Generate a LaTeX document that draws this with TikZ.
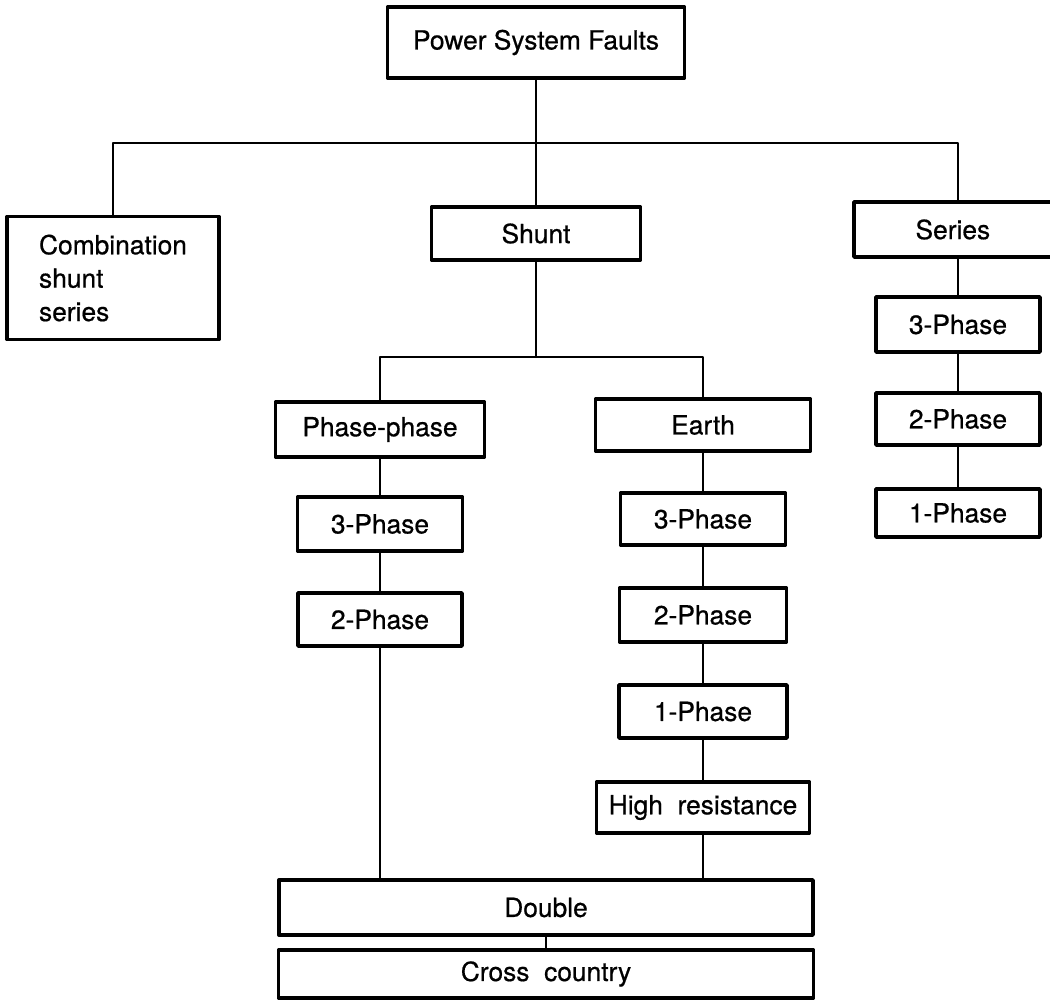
\documentclass[tikz,border=0pt]{standalone}
\usepackage{fontspec}
\setmainfont{TeX Gyre Heros}
\newfontfamily\inkfont{TeX Gyre Heros}[FakeBold=0.6]
\definecolor{pen}{RGB}{0,0,0}
\tikzset{
  fault/.style={draw=pen, line width=2pt, inner sep=2pt,
                font=\inkfont\fontsize{15}{19}\selectfont},
  link/.style={draw=pen, line width=1.4pt},
}

\begin{document}
\begin{tikzpicture}[x=0.02cm, y=-0.02cm, line cap=round, line join=round]

  %========= frame =========
  \useasboundingbox (0,0) rectangle (1050,1002);

  %========= top levels =========
  \node[fault, minimum width=5.94cm, minimum height=1.42cm] (faults) at (536,42.5) {Power System Faults};
  \node[fault, minimum width=4.24cm, minimum height=2.46cm, align=left] (comb) at (113,278)
       {Combination\\shunt\\series};
  \node[fault, minimum width=4.18cm, minimum height=1.06cm] (shunt) at (536,233.5) {Shunt};
  \node[fault, minimum width=4.16cm, minimum height=1.10cm, text width=3.7cm, align=left]
       (series) at (958,229.5) {\hspace*{1.0cm}Series};

  %========= series column =========
  \node[fault, minimum width=3.28cm, minimum height=1.10cm] (s3) at (958,324.5) {3-Phase};
  \node[fault, minimum width=3.28cm, minimum height=1.04cm] (s2) at (958,419) {2-Phase};
  \node[fault, minimum width=3.28cm, minimum height=0.96cm] (s1) at (958,513) {1-Phase};

  %========= shunt branches =========
  \node[fault, minimum width=4.18cm, minimum height=1.10cm] (pp) at (380,429.5) {Phase-phase};
  \node[fault, minimum width=3.30cm, minimum height=1.08cm] (p3) at (380,524) {3-Phase};
  \node[fault, minimum width=3.28cm, minimum height=1.06cm] (p2) at (380,619.5) {2-Phase};

  \node[fault, minimum width=4.30cm, minimum height=1.04cm] (earth) at (703,425) {Earth};
  \node[fault, minimum width=3.30cm, minimum height=1.04cm] (e3) at (703,519) {3-Phase};
  \node[fault, minimum width=3.34cm, minimum height=1.08cm] (e2) at (703,615) {2-Phase};
  \node[fault, minimum width=3.36cm, minimum height=1.06cm] (e1) at (703,711.5) {1-Phase};
  \node[fault, minimum width=4.26cm, minimum height=1.02cm] (hr) at (703,807.5) {High\ \ resistance};

  %========= bottom =========
  \node[fault, minimum width=10.68cm, minimum height=1.10cm] (dbl) at (546,907.5) {Double};
  \node[fault, minimum width=10.70cm, minimum height=0.96cm] (cc) at (546,974) {Cross\ \ country};

  %========= connectors =========
  \coordinate (j1) at (536,143);
  \coordinate (j2) at (536,357);
  \draw[link] (faults.south) -- (shunt.north);
  \draw[link] (comb.north) |- (j1) -| (series.north);
  \draw[link] (shunt.south) -- (j2);
  \draw[link] (pp.north) |- (j2) -| (earth.north);
  \foreach \a/\b in {series/s3, s3/s2, s2/s1, pp/p3, p3/p2, earth/e3, e3/e2, e2/e1, e1/hr}
    \draw[link] (\a) -- (\b);
  \draw[link] (p2.south) -- (p2.south |- dbl.north);
  \draw[link] (hr.south) -- (hr.south |- dbl.north);
  \draw[link] (dbl.south) -- (cc.north);
\end{tikzpicture}
\end{document}
